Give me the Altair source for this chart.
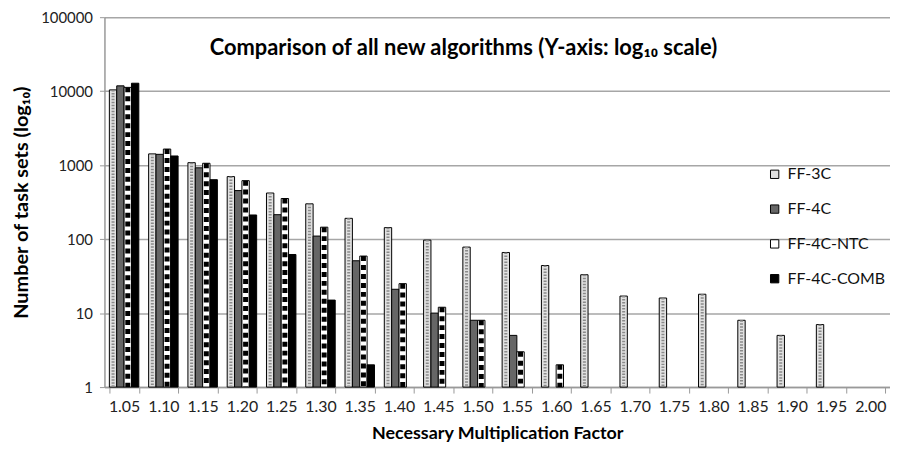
import altair as alt
import pandas as pd

categories = ["1.05", "1.10", "1.15", "1.20", "1.25", "1.30", "1.35", "1.40", "1.45", "1.50",
              "1.55", "1.60", "1.65", "1.70", "1.75", "1.80", "1.85", "1.90", "1.95", "2.00"]
series = ["FF-3C", "FF-4C", "FF-4C-NTC", "FF-4C-COMB"]

ff_3c = [10400, 1420, 1080, 700, 420, 300, 191, 143, 97, 78, 66, 44, 33, 17, 16, 18, 8, 5, 7, None]
ff_4c = [11800, 1400, 920, 453, 214, 110, 51, 21, 10, 8, 5, None, None, None, None, None, None, None, None, None]
ff_4c_ntc = [11250, 1650, 1060, 617, 354, 145, 59, 25, 12, 8, 3, 2, None, None, None, None, None, None, None, None]
ff_4c_comb = [12800, 1330, 636, 212, 62, 15, 2, None, None, None, None, None, None, None, None, None, None, None, None, None]

title_text = "Comparison of all new algorithms (Y-axis: log\u2081\u2080 scale)"

rows = []
for name, vals in zip(series, [ff_3c, ff_4c, ff_4c_ntc, ff_4c_comb]):
    for c, v in zip(categories, vals):
        if v is not None:
            rows.append({"cat": c, "series": name, "value": v})
df = pd.DataFrame(rows)

FONT = "Lato"

x_enc = alt.X("cat:N", sort=categories,
              scale=alt.Scale(domain=categories, paddingInner=0.25, paddingOuter=0.125),
              axis=alt.Axis(title="Necessary Multiplication Factor", labelAngle=0,
                            tickBand="extent", tickSize=6, tickColor="#999999",
                            domainColor="#999999", domainWidth=1.5,
                            labelFontSize=16, labelColor="#222222", labelPadding=6,
                            titleFontSize=18, titleFontWeight="bold", titleColor="#000000",
                            titlePadding=10, grid=False))
xoff = alt.XOffset("series:N", scale=alt.Scale(domain=series))
y_scale = alt.Scale(type="log", domain=[1, 100000])

bars = alt.Chart(df).mark_bar(stroke="#000000", strokeWidth=1).encode(
    x=x_enc,
    xOffset=xoff,
    y=alt.Y("value:Q", scale=y_scale,
            axis=alt.Axis(title="Number of task sets (log\u2081\u2080)", values=[1, 10, 100, 1000, 10000, 100000],
                          format="d", labelFontSize=15, labelColor="#222222",
                          tickSize=5, tickColor="#999999", domainColor="#999999", domainWidth=1.5,
                          gridColor="#a6a6a6", gridWidth=1.5, labelPadding=7,
                          titleFontSize=20, titleFontWeight="bold", titleColor="#000000",
                          titlePadding=9)),
    y2=alt.datum(1),
    fill=alt.Fill("series:N", scale=alt.Scale(domain=series,
                                              range=["#e0e0e0", "#666666", "#ffffff", "#000000"]),
                  legend=alt.Legend(title=None, orient="none", legendX=666, legendY=150,
                                    symbolType="square", symbolSize=70, symbolStrokeColor="#000000",
                                    symbolStrokeWidth=1, labelFontSize=16, labelColor="#111111",
                                    rowPadding=19, labelOffset=5)),
)

dots = alt.Chart(df).transform_filter(alt.datum.series == "FF-3C").mark_rule(
    color="#8a8a8a", strokeWidth=3, strokeDash=[1.5, 1.5]
).encode(x=alt.X("cat:N", sort=categories), xOffset=xoff,
         y=alt.Y("value:Q", scale=y_scale), y2=alt.datum(1.02))

stripes = alt.Chart(df).transform_filter(alt.datum.series == "FF-4C-NTC").mark_rule(
    color="#000000", strokeWidth=5, strokeDash=[5, 4]
).encode(x=alt.X("cat:N", sort=categories), xOffset=xoff,
         y=alt.Y("value:Q", scale=y_scale), y2=alt.datum(1.0))

title = alt.Chart(pd.DataFrame({"t": [title_text]})).mark_text(
    font=FONT, fontSize=22, fontWeight="bold", color="#000000", align="center", baseline="middle"
).encode(text="t:N", x=alt.value(361), y=alt.value(31))

chart = alt.layer(bars, dots, stripes, title).properties(
    width=790, height=372,
    autosize=alt.AutoSizeParams(type="none"),
    padding={"left": 97, "top": 8, "right": 0, "bottom": 56},
).configure(font=FONT).configure_view(stroke=None)

chart.save("out.html", embed_options={"renderer": "svg", "actions": False})
